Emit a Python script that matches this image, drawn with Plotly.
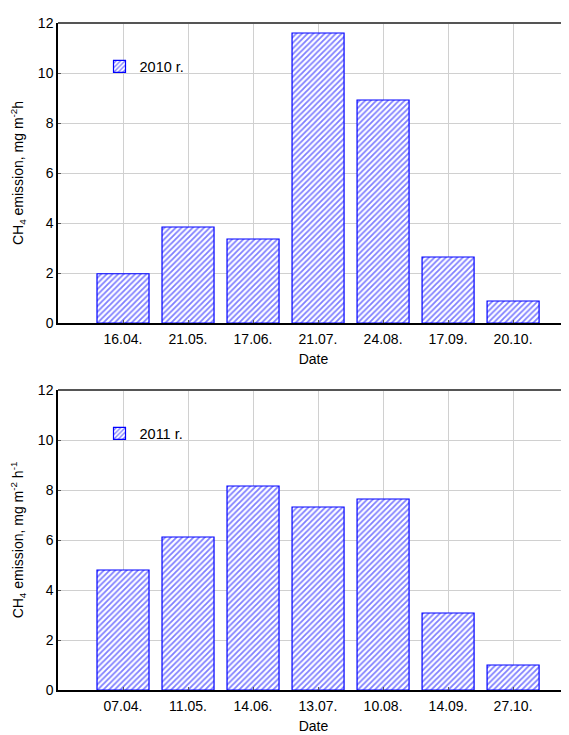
import plotly.graph_objects as go

dates_2010 = ["16.04.", "21.05.", "17.06.", "21.07.", "24.08.", "17.09.", "20.10."]
values_2010 = [1.97, 3.84, 3.36, 11.6, 8.92, 2.64, 0.88]
dates_2011 = ["07.04.", "11.05.", "14.06.", "13.07.", "10.08.", "14.09.", "27.10."]
values_2011 = [4.8, 6.12, 8.16, 7.32, 7.64, 3.08, 1.0]
y_ticks = [0, 2, 4, 6, 8, 10, 12]

# page has an 8px body margin, so the figure is drawn 8px right/down
OFF = 8
W, H = 569 - OFF, 735 - OFF
BLUE = "#0000ff"
FONT = "Liberation Sans, Arial, sans-serif"
FS = 14
L = 58 - OFF

fig = go.Figure()

def bar(x, y, name, xa, ya, legend):
    return go.Bar(
        x=list(range(len(x))), y=y, name=name, xaxis=xa, yaxis=ya, legend=legend,
        width=0.8, showlegend=True,
        marker=dict(color="white", line=dict(color=BLUE, width=1.2),
                    pattern=dict(shape="/", fgcolor=BLUE, bgcolor="white", size=4, solidity=0.45)),
    )

fig.add_trace(bar(dates_2010, values_2010, "2010 r.", "x", "y", "legend"))
fig.add_trace(bar(dates_2011, values_2011, "2011 r.", "x2", "y2", "legend2"))

def dom(top, bottom):
    return [1 - (bottom - OFF) / H, 1 - (top - OFF) / H]

axis_common = dict(showline=True, linecolor="black", linewidth=1.5,
                   gridcolor="#d0d0d0", gridwidth=1, zeroline=False, automargin=False,
                   tickfont=dict(family=FONT, size=FS, color="black"),
                   ticks="inside", ticklen=3, tickcolor="#555")

xtitle = dict(text="Date", standoff=9, font=dict(family=FONT, size=14))

fig.update_layout(
    width=W, height=H, plot_bgcolor="white", paper_bgcolor="white",
    margin=dict(l=L, r=0, t=0, b=0, autoexpand=False), bargap=0.2,
    font=dict(family=FONT, size=FS, color="black"),
    xaxis=dict(domain=[0, 1], anchor="y", range=[-1, 6.86], tickvals=list(range(7)),
               ticktext=dates_2010, title=xtitle, ticklabelstandoff=2, **axis_common),
    yaxis=dict(domain=dom(23, 323), anchor="x", range=[0, 12], tickvals=y_ticks,
               title=dict(text="CH<sub>4</sub> emission, mg m<sup>-2</sup>h", standoff=16,
                          font=dict(family=FONT, size=14)),
               **axis_common),
    xaxis2=dict(domain=[0, 1], anchor="y2", range=[-1, 6.86], tickvals=list(range(7)),
                ticktext=dates_2011, title=xtitle, ticklabelstandoff=2, **axis_common),
    yaxis2=dict(domain=dom(390, 690), anchor="x2", range=[0, 12], tickvals=y_ticks,
                title=dict(text="CH<sub>4</sub> emission, mg m<sup>-2</sup> h<sup>-1</sup>", standoff=16,
                           font=dict(family=FONT, size=14)),
                **axis_common),
    legend=dict(x=(99.5 - 58) / 511, y=1 - (50.5 - OFF) / H, xanchor="left", yanchor="top",
                bgcolor="rgba(0,0,0,0)", font=dict(family=FONT, size=14.5)),
    legend2=dict(x=(99.5 - 58) / 511, y=1 - (417.5 - OFF) / H, xanchor="left", yanchor="top",
                 bgcolor="rgba(0,0,0,0)", font=dict(family=FONT, size=14.5)),
)

# top border lines
for top in (23, 390):
    y = 1 - (top - OFF) / H
    fig.add_shape(type="line", xref="paper", yref="paper", x0=0, x1=1,
                  y0=y, y1=y, line=dict(color="#555", width=2))

fig.write_html("out.html")
